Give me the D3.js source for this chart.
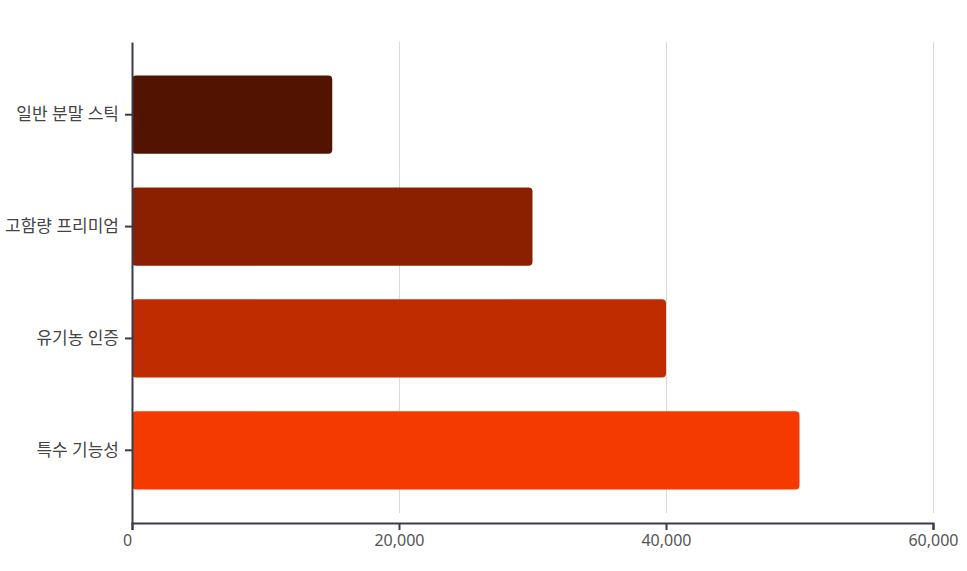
<!DOCTYPE html>
<html>
<head>
<meta charset="utf-8">
<script src="https://d3js.org/d3.v7.min.js"></script>
<style>
  body { margin: 0; background: #fff; }
  text { font-family: "Noto Sans", "Noto Sans CJK KR", sans-serif; }
</style>
</head>
<body>
<script>
    // Data
    var categories = ["일반 분말 스틱", "고함량 프리미엄", "유기농 인증", "특수 기능성"];
    var values = [15000, 30000, 40000, 50000];
    var colors = ["#521400", "#8a2000", "#bf2c00", "#f53a00"];
    var xTicks = [0, 20000, 40000, 60000];

    var margin = {top: 42, right: 34, bottom: 48, left: 132},
        width = 967 - margin.left - margin.right,
        height = 571 - margin.top - margin.bottom;

    var x = d3.scaleLinear().domain([0, 60000]).range([0, width]);
    var y = d3.scaleBand().domain(categories).range([0, height]).paddingInner(0.3).paddingOuter(0.3);

    var svg = d3.select("body")
        .append("svg")
        .attr("width", 967)
        .attr("height", 571)
        .append("g")
        .attr("transform", "translate(" + margin.left + "," + margin.top + ")");

    // gridlines
    svg.selectAll(".grid")
        .data(xTicks.slice(1))
        .enter()
        .append("line")
        .attr("x1", function(d) { return x(d) + 0.5; })
        .attr("x2", function(d) { return x(d) + 0.5; })
        .attr("y1", 0)
        .attr("y2", height - 10)
        .attr("stroke", "#d9d9d9")
        .attr("stroke-width", 1);

    // bars
    svg.selectAll(".bar")
        .data(categories)
        .enter()
        .append("rect")
        .attr("x", 0)
        .attr("y", function(d) { return y(d); })
        .attr("width", function(d, i) { return x(values[i]); })
        .attr("height", y.bandwidth())
        .attr("rx", 4)
        .attr("fill", function(d, i) { return colors[i]; });

    // x axis
    var xAxis = svg.append("g")
        .attr("transform", "translate(0," + height + ")")
        .call(d3.axisBottom(x).tickValues(xTicks).tickSize(7).tickPadding(5).tickFormat(d3.format(",")));
    xAxis.select(".domain").attr("stroke", "#3b3a4a").attr("stroke-width", 2);
    xAxis.selectAll(".tick line").attr("stroke", "#3b3a4a").attr("stroke-width", 2);
    xAxis.selectAll(".tick text").attr("fill", "#555").style("font-size", "16px");
    xAxis.selectAll(".tick text").filter(function(d) { return d === 0; }).attr("dx", -5);

    // y axis
    var yAxis = svg.append("g")
        .call(d3.axisLeft(y).tickSize(7).tickSizeOuter(0).tickPadding(6));
    yAxis.select(".domain").attr("stroke", "#3b3a4a").attr("stroke-width", 2);
    yAxis.selectAll(".tick line").attr("stroke", "#3b3a4a").attr("stroke-width", 2);
    yAxis.selectAll(".tick text").attr("fill", "#444").style("font-size", "17px");
</script>
</body>
</html>
